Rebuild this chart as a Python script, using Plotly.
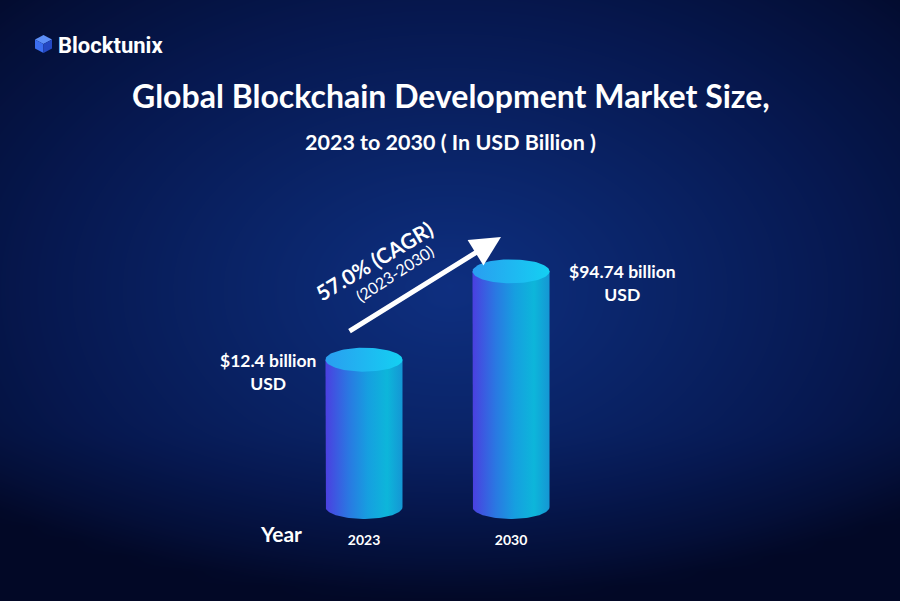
import numpy as np
import plotly.graph_objects as go

# ---- data ----
years = ["2023", "2030"]
market_size = [12.4, 94.74]          # USD billion
value_labels = ["$12.4 billion<br>USD", "$94.74 billion<br>USD"]
cagr_text = "57.0% (CAGR)"
cagr_period = "(2023-2030)"
title_text = "Global Blockchain Development Market Size,"
subtitle_text = "2023 to 2030 ( In USD Billion )"
brand = "Blocktunix"

W, H = 900, 601
FONT = "Lato"
BAR_BASE = 0.417        # log-axis baseline
HALF_W = 0.262          # bar half width (x2 units)
ELL = 0.12              # ellipse half-height (decades)

fig = go.Figure()

# ---- background radial glow (base pixel axes) ----
gx = np.linspace(0, W, 61)
gy = np.linspace(0, H, 41)
X, Y = np.meshgrid(gx, gy)
r = np.sqrt(((X - 450) / 560) ** 2 + ((Y - 290) / 380) ** 2)
r = r + np.clip((Y - 430) / 260, 0, None) * 0.6
r = np.clip(r, 0, 1.2)
fig.add_trace(go.Heatmap(
    x=gx, y=gy, z=r, zsmooth="best", showscale=False, hoverinfo="skip",
    zmin=0, zmax=1.2,
    colorscale=[[0, "#0e2f80"], [0.3, "#0a2468"], [0.6, "#061850"],
                [0.85, "#040f38"], [1, "#020826"]],
    xaxis="x", yaxis="y"))

# ---- cylinders (overlay axes, log y) ----
body_cs = [[0, "#4b3fe0"], [0.3, "#2a78e2"], [0.55, "#169fe0"],
           [0.8, "#0db6da"], [1, "#1596d4"]]
top_cs = [[0, "#2a9ef0"], [1, "#14d0f2"]]
t = np.linspace(0, np.pi, 60)
lb = np.log10(BAR_BASE)
for i, v in enumerate(market_size):
    lv = np.log10(v)
    bx = np.cos(np.pi - t) * HALF_W + i
    by = lb - ELL * np.sin(t)
    xs = np.concatenate([[i - HALF_W], bx, [i + HALF_W, i - HALF_W]])
    ys = np.concatenate([[lv], by, [lv, lv]])
    fig.add_trace(go.Scatter(
        x=xs, y=10 ** ys, mode="lines", fill="toself", line=dict(width=0),
        fillcolor="#1a8fe0",
        fillgradient=dict(type="horizontal", colorscale=body_cs),
        hoverinfo="skip", showlegend=False, xaxis="x2", yaxis="y2"))
    tt = np.linspace(0, 2 * np.pi, 90)
    ex = i + HALF_W * np.cos(tt)
    ey = lv + ELL * np.sin(tt)
    fig.add_trace(go.Scatter(
        x=ex, y=10 ** ey, mode="lines", fill="toself", line=dict(width=0),
        fillcolor="#1ab8f0",
        fillgradient=dict(type="horizontal", colorscale=top_cs),
        hoverinfo="skip", showlegend=False, xaxis="x2", yaxis="y2"))

# value labels
shifts = [-96, 111]
for i, (v, lab) in enumerate(zip(market_size, value_labels)):
    fig.add_annotation(x=i, y=np.log10(v), xref="x2", yref="y2", text=lab,
                       showarrow=False, xshift=shifts[i], yanchor="top", yshift=12,
                       font=dict(family=FONT, size=17.5, color="white", weight="bold"),
                       align="center")

# ---- header ----
fig.add_annotation(x=451, y=95, xref="x", yref="y", text=title_text, showarrow=False,
                   font=dict(family=FONT, size=32, color="white", weight="bold"))
fig.add_annotation(x=450, y=142, xref="x", yref="y", text=subtitle_text, showarrow=False,
                   font=dict(family=FONT, size=21.5, color="white", weight="bold"))
fig.add_annotation(x=56, y=45, xref="x", yref="y", text=brand, showarrow=False,
                   xanchor="left",
                   font=dict(family="Roboto", size=22, color="white", weight="bold"))
# logo cube
fig.add_shape(type="path", path="M 43.5 35 L 52 39.5 L 43.5 44 L 35 39.5 Z",
              xref="x", yref="y", fillcolor="#5d8ff8", line=dict(width=0))
fig.add_shape(type="path", path="M 35 39.5 L 43.5 44 L 43.5 53 L 35 48.5 Z",
              xref="x", yref="y", fillcolor="#3b6df0", line=dict(width=0))
fig.add_shape(type="path", path="M 43.5 44 L 52 39.5 L 52 48.5 L 43.5 53 Z",
              xref="x", yref="y", fillcolor="#2448c4", line=dict(width=0))

# ---- CAGR arrow & text ----
fig.add_annotation(x=501, y=237, ax=348, ay=332, xref="x", yref="y",
                   axref="x", ayref="y", text="", showarrow=True,
                   arrowhead=2, arrowsize=1.2, arrowwidth=5, arrowcolor="white")
fig.add_annotation(x=374, y=260, xref="x", yref="y", text=cagr_text, showarrow=False,
                   textangle=-31,
                   font=dict(family=FONT, size=21, color="white", weight="bold"))
fig.add_annotation(x=394, y=273, xref="x", yref="y", text=cagr_period, showarrow=False,
                   textangle=-33,
                   font=dict(family=FONT, size=16, color="white"))

fig.add_annotation(x=281, y=533, xref="x", yref="y", text="Year", showarrow=False,
                   font=dict(family=FONT, size=21, color="white", weight="bold"))

fig.update_layout(
    width=W, height=H, margin=dict(l=0, r=0, t=0, b=0),
    paper_bgcolor="#030c30", plot_bgcolor="rgba(0,0,0,0)", showlegend=False,
    xaxis=dict(range=[0, W], visible=False, fixedrange=True),
    yaxis=dict(range=[H, 0], visible=False, fixedrange=True),
    xaxis2=dict(range=[-2.476, 3.646], overlaying="x", anchor="free", position=0.118,
                tickvals=[0, 1], ticktext=years, showgrid=False, zeroline=False,
                showline=False, ticks="",
                tickfont=dict(family=FONT, size=14, color="white", weight="bold")),
    yaxis2=dict(type="log", range=[-1.32, 4.69], overlaying="y", visible=False),
)

fig.write_html("out.html", config={"displayModeBar": False},
               post_script="document.body.style.margin='0';document.body.style.overflow='hidden';")
